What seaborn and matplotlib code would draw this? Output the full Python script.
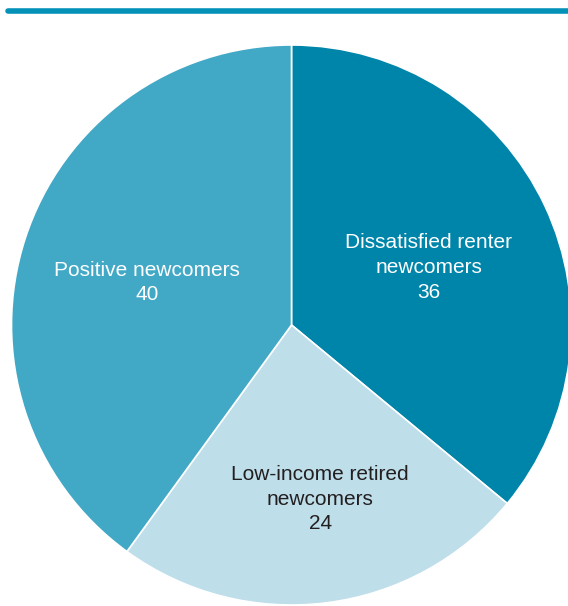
import numpy as np
import matplotlib
matplotlib.use("Agg")
import matplotlib.pyplot as plt
import seaborn as sns

# segment data (clockwise from the top)
segments = ["Dissatisfied renter\nnewcomers", "Low-income retired\nnewcomers", "Positive newcomers"]
shares = [36, 24, 40]
colors = ["#0085AA", "#BEDEEA", "#41A8C6"]
text_colors = ["white", "#231F20", "white"]
label_dist = [0.535, 0.62, 0.54]
label_turn = [-1.5, 2.3, 0.6]   # small nudge (degrees) off the wedge middle

sns.set_theme(style="white")
plt.rcParams['font.family'] = ['Liberation Sans', 'DejaVu Sans']

fig = plt.figure(figsize=(5.68, 6.06), dpi=100)
ax = fig.add_axes([0, 0, 1, 1])

wedges, _ = ax.pie(shares, colors=colors, startangle=90, counterclock=False,
                   radius=1.0, wedgeprops=dict(edgecolor="white", linewidth=1.2))

# labels placed along the middle angle of each wedge
for w, name, val, tc, d, t in zip(wedges, segments, shares, text_colors, label_dist, label_turn):
    mid = np.deg2rad((w.theta1 + w.theta2) / 2 + t)
    ax.text(d * np.cos(mid), d * np.sin(mid) - 0.01, f"{name}\n{val}",
            ha="center", va="center", color=tc, fontsize=15, linespacing=1.38)

# map the pie so it sits where the reference puts it
px = 280.0
cx, cy = 291.5, 325.0
ax.set_xlim(-cx / px, (568 - cx) / px)
ax.set_ylim(-(606 - cy) / px, cy / px)
ax.set_aspect("auto")
ax.axis("off")

# teal rule across the top
fig.add_artist(plt.Line2D([8 / 568, 1], [1 - 10.5 / 606] * 2, color="#0391B8", lw=4,
                          transform=fig.transFigure))

fig.savefig("out.png", dpi=100)
